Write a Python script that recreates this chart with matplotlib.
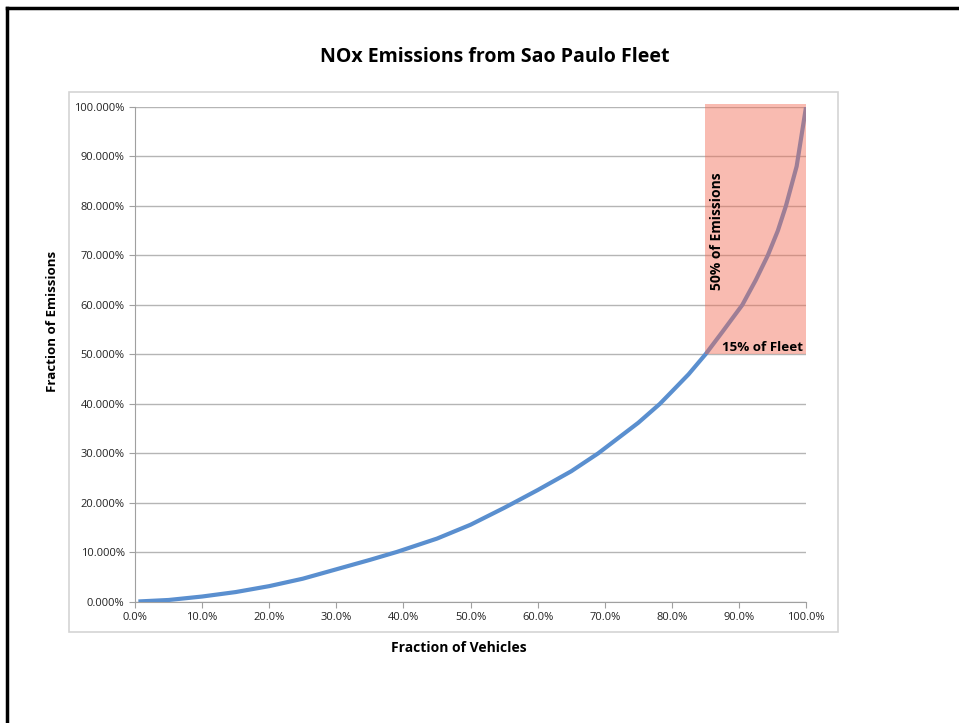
import matplotlib
matplotlib.use('Agg')
import matplotlib.pyplot as plt
from matplotlib.patches import Rectangle
from matplotlib.lines import Line2D
from matplotlib.ticker import FuncFormatter, MultipleLocator

# cumulative share of fleet vs cumulative share of NOx emissions
fleet_frac = [0.005, 0.05, 0.10, 0.15, 0.20, 0.25, 0.30, 0.35, 0.39, 0.45,
              0.50, 0.55, 0.564, 0.60, 0.65, 0.69, 0.75, 0.782, 0.80, 0.825,
              0.85, 0.875, 0.905, 0.925, 0.943, 0.958, 0.970, 0.980, 0.986, 1.0]
emis_frac = [0.001, 0.004, 0.011, 0.020, 0.032, 0.047, 0.066, 0.085, 0.101, 0.128,
             0.156, 0.190, 0.200, 0.226, 0.264, 0.300, 0.362, 0.400, 0.425, 0.460,
             0.500, 0.545, 0.600, 0.650, 0.700, 0.750, 0.800, 0.850, 0.880, 1.0]

# highlighted region: top 15% of fleet -> 50% of emissions
band_x = [0.85, 1.0]
band_y = [0.50, 1.006]

TITLE = 'NOx Emissions from Sao Paulo Fleet'
XLABEL = 'Fraction of Vehicles'
YLABEL = 'Fraction of Emissions'

FONT = 'Open Sans'
LINE_BLUE = '#5a8fcf'
BAND_RED = '#f26a52'
GRID = '#b5b5b5'

fig = plt.figure(figsize=(9.59, 7.23), dpi=100)
ax = fig.add_axes([0.1408, 0.1674, 0.6997, 0.6847])

# outer chart frame (light gray) and the black page border
fig.patches.append(Rectangle((0.072, 0.126), 0.802, 0.747, transform=fig.transFigure,
                             facecolor='none', edgecolor='#d4d4d4', lw=1.2, zorder=0))
fig.lines.append(Line2D([0.0075, 0.0075], [0.0, 0.989], transform=fig.transFigure,
                        color='black', lw=2.5))
fig.lines.append(Line2D([0.0075, 1.0], [0.989, 0.989], transform=fig.transFigure,
                        color='black', lw=2.5))

ax.plot(fleet_frac, emis_frac, color=LINE_BLUE, lw=3.0, solid_joinstyle='round',
        solid_capstyle='butt', zorder=3)

ax.add_patch(Rectangle((band_x[0], band_y[0]), band_x[1] - band_x[0], band_y[1] - band_y[0],
                       facecolor=BAND_RED, alpha=0.45, edgecolor='none', zorder=4,
                       clip_on=False))

ax.text(0.867, 0.75, '50% of Emissions', rotation=90, ha='center', va='center',
        fontsize=10, fontweight='bold', family=FONT, zorder=5)
ax.text(0.935, 0.515, '15% of Fleet', ha='center', va='center',
        fontsize=9.6, fontweight='bold', family=FONT, zorder=5)

ax.set_xlim(0, 1)
ax.set_ylim(0, 1)
ax.xaxis.set_major_locator(MultipleLocator(0.1))
ax.yaxis.set_major_locator(MultipleLocator(0.1))
ax.xaxis.set_major_formatter(FuncFormatter(lambda v, p: f'{v * 100:.1f}%'))
ax.yaxis.set_major_formatter(FuncFormatter(lambda v, p: f'{v * 100:.3f}%'))
ax.yaxis.grid(True, color=GRID, lw=1.0)
ax.set_axisbelow(True)

for side in ['top', 'right']:
    ax.spines[side].set_visible(False)
for side in ['left', 'bottom']:
    ax.spines[side].set_color('#a0a0a0')
ax.tick_params(colors='#a0a0a0', labelcolor='#222222', length=4, labelsize=8)
for lab in ax.get_xticklabels() + ax.get_yticklabels():
    lab.set_family(FONT)

fig.text(0.516, 0.921, TITLE, ha='center', va='center', fontsize=14,
         fontweight='bold', family=FONT)
fig.text(0.478, 0.104, XLABEL, ha='center', va='center', fontsize=10,
         fontweight='bold', family=FONT)
fig.text(0.055, 0.555, YLABEL, ha='center', va='center', rotation=90, fontsize=9.6,
         fontweight='bold', family=FONT)

fig.savefig('out.png', dpi=100)
